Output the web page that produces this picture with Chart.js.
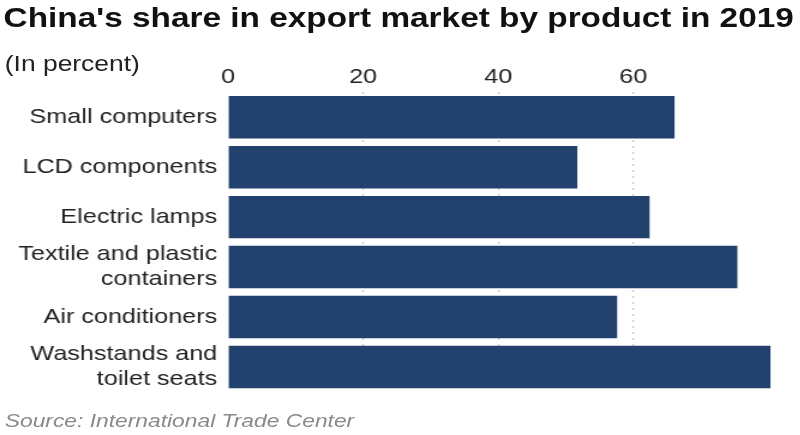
<!DOCTYPE html>
<html>
<head>
<meta charset="utf-8">
<script src="https://cdn.jsdelivr.net/npm/chart.js"></script>
<style>
  html, body { margin:0; padding:0; background:#fff; overflow:hidden; }
  #outer { width:800px; height:435px; overflow:hidden; position:relative; }
  #wrap { position:absolute; left:0; top:0; width:667px; height:435px; transform:scaleX(1.2); transform-origin:0 0; font-family:"Liberation Sans", Arial, sans-serif; }
  #c { position:absolute; left:0; top:0; }
  .title { position:absolute; left:3px; top:2px; font-size:27.8px; font-weight:bold; color:#111; white-space:nowrap; }
  .sub { position:absolute; left:4px; top:51px; font-size:22px; color:#222; white-space:nowrap; }
  .src { position:absolute; left:4px; top:410px; font-size:19px; font-style:italic; color:#8a8a8a; white-space:nowrap; }
</style>
</head>
<body>
<div id="outer">
<div id="wrap">
  <canvas id="c" width="667" height="435"></canvas>
  <div class="title">China's share in export market by product in 2019</div>
  <div class="sub">(In percent)</div>
  <div class="src">Source: International Trade Center</div>
</div>
</div>
<script>
const categories = [
  ["Small computers"],
  ["LCD components"],
  ["Electric lamps"],
  ["Textile and plastic", "containers"],
  ["Air conditioners"],
  ["Washstands and", "toilet seats"]
];
const shareValues = [66.1, 51.7, 62.4, 75.4, 57.6, 80.3];
const tickLabels = [0, 20, 40, 60];

new Chart(document.getElementById('c'), {
  type: 'bar',
  data: {
    labels: categories,
    datasets: [{
      data: shareValues,
      backgroundColor: '#22426d',
      borderWidth: 0,
      barPercentage: 0.85,
      categoryPercentage: 1.0
    }]
  },
  options: {
    indexAxis: 'y',
    responsive: false,
    animation: false,
    layout: { padding: { top: 63, right: 21, bottom: 43, left: 0 } },
    plugins: { legend: { display: false }, tooltip: { enabled: false } },
    scales: {
      x: {
        position: 'top',
        min: 0,
        max: 81,
        afterBuildTicks: (s) => { s.ticks = tickLabels.map(v => ({ value: v })); },
        ticks: {
          font: { family: 'Liberation Sans', size: 21 },
          color: '#222',
          padding: 2,
          maxRotation: 0
        },
        grid: {
          drawTicks: false,
          color: (ctx) => ctx.tick && ctx.tick.value === 0 ? 'rgba(0,0,0,0)' : '#c8c8c8',
          lineWidth: 1.2
        },
        border: { display: false, dash: [2, 4] }
      },
      y: {
        afterFit: (s) => { s.width = 190; },
        ticks: {
          font: { family: 'Liberation Sans', size: 21, lineHeight: 1.2 },
          color: '#222',
          padding: 9,
          autoSkip: false
        },
        grid: { display: false, drawTicks: false },
        border: { display: false }
      }
    }
  }
});
</script>
</body>
</html>
